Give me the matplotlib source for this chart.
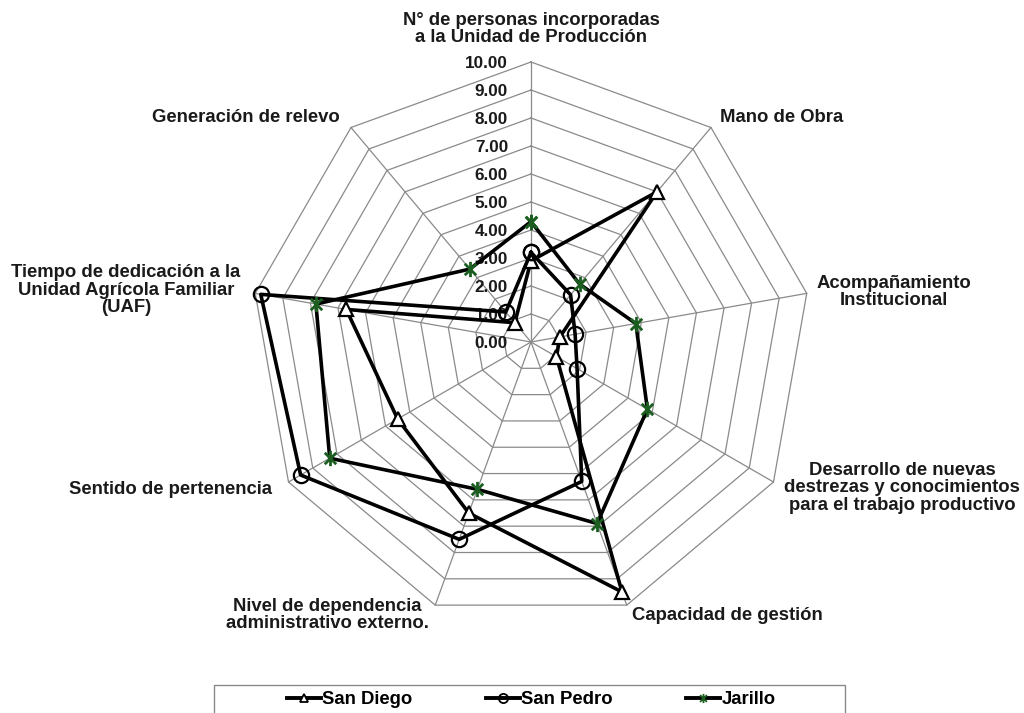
import numpy as np
import matplotlib
matplotlib.use("Agg")
import matplotlib.pyplot as plt
from matplotlib.patches import Rectangle
from matplotlib.path import Path
from matplotlib.lines import Line2D

categories = [
    "N° de personas incorporadas\na la Unidad de Producción",
    "Mano de Obra",
    "Acompañamiento\nInstitucional",
    "Desarrollo de nuevas\ndestrezas y conocimientos\npara el trabajo productivo",
    "Capacidad de gestión",
    "Nivel de dependencia\nadministrativo externo.",
    "Sentido de pertenencia",
    "Tiempo de dedicación a la\nUnidad Agrícola Familiar\n(UAF)",
    "Generación de relevo",
]
san_diego = [2.9, 7.0, 1.05, 1.05, 9.5, 6.5, 5.5, 6.7, 0.9]
san_pedro = [3.2, 2.2, 1.6, 1.9, 5.3, 7.5, 9.5, 9.8, 1.4]
jarillo = [4.3, 2.7, 3.8, 4.8, 6.9, 5.6, 8.3, 7.8, 3.4]
series_names = ["San Diego", "San Pedro", "Jarillo"]
ticks = list(range(0, 11))
tick_labels = [f"{t:.2f}" for t in ticks]

plt.rcParams["font.family"] = ["Liberation Sans", "DejaVu Sans"]

W, H = 1024, 713
fig = plt.figure(figsize=(W / 100, H / 100), dpi=100)
fig.patch.set_facecolor("white")

def fx(x):
    return x / W

def fy(y):
    return 1 - y / H

cx, cy, R = 531, 342, 280
ax = fig.add_axes([fx(cx - R), fy(cy + R), 2 * R / W, 2 * R / H], projection="polar")
ax.set_theta_zero_location("N")
ax.set_theta_direction(-1)
ax.set_ylim(0, 10)
ax.set_xticks([])
ax.set_yticks([])
ax.grid(False)
ax.spines["polar"].set_visible(False)
ax.patch.set_visible(False)

N = len(categories)
angles = np.linspace(0, 2 * np.pi, N, endpoint=False)
closed = np.append(angles, angles[0])

grid_color = "#8a8a8a"
for t in ticks[1:]:
    ax.plot(closed, [t] * (N + 1), color=grid_color, lw=0.9, zorder=1, clip_on=False)
for a in angles:
    ax.plot([a, a], [0, ticks[-1]], color=grid_color, lw=0.9, zorder=1, clip_on=False)

for t, lab in zip(ticks, tick_labels):
    ax.annotate(lab, xy=(0, t), xytext=(-23, -2), textcoords="offset pixels",
                ha="right", va="center", fontsize=12.3, fontweight="bold",
                color="#1a1a1a", zorder=2)

star = Path([(0, -1), (0, 1), (-0.75, -0.75), (0.75, 0.75), (-0.75, 0.75), (0.75, -0.75)],
            [Path.MOVETO, Path.LINETO, Path.MOVETO, Path.LINETO, Path.MOVETO, Path.LINETO])
green = "#1b5e20"

styles = [
    dict(marker="^", ms=10.5, mfc="white", mec="black", mew=1.6),
    dict(marker="o", ms=11, mfc="none", mec="black", mew=1.6),
    dict(marker=star, ms=11, mfc=green, mec=green, mew=2.0),
]
handles = []
for vals, name, st in zip([san_diego, san_pedro, jarillo], series_names, styles):
    v = list(vals) + [vals[0]]
    ax.plot(closed, v, color="black", lw=2.6, zorder=3, clip_on=False, label=name, **st)
    handles.append(Line2D([], [], color="black", lw=2.8, marker=st["marker"],
                          ms=st["ms"] * 0.6, mfc=st["mfc"], mec=st["mec"], mew=1.3))

# category labels (pixel positions in reference)
lab_kw = dict(fontsize=13.3, fontweight="bold", color="#1a1a1a", linespacing=1.05)
fig.text(fx(531), fy(29), categories[0], ha="center", va="center", multialignment="center", **lab_kw)
fig.text(fx(720), fy(118), categories[1], ha="left", va="center", **lab_kw)
fig.text(fx(894), fy(292), categories[2], ha="center", va="center", multialignment="center", **lab_kw)
fig.text(fx(902), fy(488), categories[3], ha="center", va="center", multialignment="center", **lab_kw)
fig.text(fx(632), fy(615), categories[4], ha="left", va="center", **lab_kw)
fig.text(fx(327), fy(615), categories[5], ha="center", va="center", multialignment="center", **lab_kw)
fig.text(fx(272), fy(490), categories[6], ha="right", va="center", **lab_kw)
fig.text(fx(126), fy(290), categories[7], ha="center", va="center", multialignment="center", **lab_kw)
fig.text(fx(340), fy(118), categories[8], ha="right", va="center", **lab_kw)

# legend frame
fig.patches.append(Rectangle((fx(214), -0.02), (845 - 214) / W, fy(685) + 0.02,
                             transform=fig.transFigure, fill=False,
                             edgecolor="#8a8a8a", lw=1.0))
fig.legend(handles, series_names, loc="center left",
           bbox_to_anchor=(fx(287), fy(700)), ncol=3, frameon=False,
           handlelength=1.84, handletextpad=0.05, columnspacing=4.0,
           borderaxespad=0, borderpad=0,
           prop=dict(size=13.3, weight="bold"))

fig.savefig("out.png", dpi=100, facecolor="white")
